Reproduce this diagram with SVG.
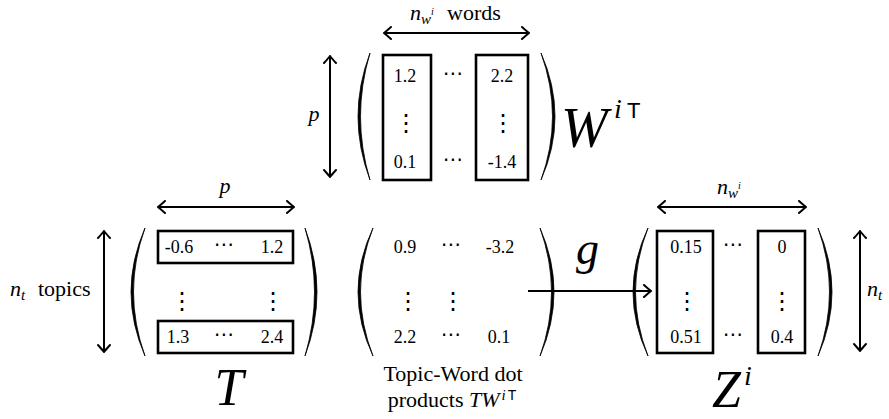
<svg xmlns="http://www.w3.org/2000/svg" width="889" height="419" viewBox="0 0 889 419">
<style>
text{font-family:"Liberation Serif","Times New Roman",serif;fill:#000}
.num{font-size:18px;text-anchor:middle}
.dots{font-family:"DejaVu Serif","DejaVu Sans",serif;font-size:20px;text-anchor:middle}
.vd{font-family:"DejaVu Serif","DejaVu Sans",serif;font-size:24px;text-anchor:middle}
.mi{font-style:italic}
.sf{font-family:"Liberation Sans","Arial",sans-serif;font-style:normal}
.lbl{font-size:22px}
.box{fill:none;stroke:#000;stroke-width:2.6}
.par{fill:#000;stroke:#000;stroke-width:0.8}
.arr{fill:none;stroke:#000;stroke-width:2;marker-start:url(#ah);marker-end:url(#ah)}
.arr1{fill:none;stroke:#000;stroke-width:2;marker-end:url(#ah)}
</style>
<defs>
<marker id="ah" markerUnits="userSpaceOnUse" viewBox="-9 -7 10 14" markerWidth="10" markerHeight="14" refX="0" refY="0" orient="auto-start-reverse">
<path d="M-7,-6 Q-2,-1.5 0,0 Q-2,1.5 -7,6" fill="none" stroke="#000" stroke-width="2" stroke-linecap="round"/>
</marker>
</defs>

<g id="W">
<path class="par" d="M370,53 Q346,116.5 370,180 Q351,116.5 370,53 Z"/>
<path class="par" d="M541,53 Q569,116.5 541,180 Q564,116.5 541,53 Z"/>
<rect class="box" x="383" y="55" width="48" height="125"/>
<rect class="box" x="476" y="55" width="52" height="125"/>
<text class="num" x="405" y="82">1.2</text>
<text class="dots" x="453" y="80">⋯</text>
<text class="num" x="502" y="82">2.2</text>
<text class="vd" x="406" y="131">⋮</text>
<text class="vd" x="503" y="131">⋮</text>
<text class="num" x="405" y="168">0.1</text>
<text class="dots" x="453" y="166">⋯</text>
<text class="num" x="502" y="168">-1.4</text>
<text class="mi" x="561" y="147" font-size="56">W</text>
<text class="mi" x="614" y="118" font-size="28">i</text>
<text class="sf" x="627" y="118" font-size="22">T</text>
<text class="mi lbl" x="410" y="20">n<tspan font-size="15" dy="4">w</tspan><tspan font-size="10" dy="-9">i</tspan></text>
<text class="lbl" x="447" y="20">words</text>
<text class="mi lbl" x="314" y="121" text-anchor="middle">p</text>
</g>

<g id="T">
<path class="par" d="M145,228 Q117,292 145,356 Q122,292 145,228 Z"/>
<path class="par" d="M305,228 Q329,292 305,356 Q324,292 305,228 Z"/>
<rect class="box" x="158" y="231" width="135" height="32"/>
<rect class="box" x="158" y="321" width="135" height="32"/>
<text class="num" x="179" y="253">-0.6</text>
<text class="dots" x="224" y="251">⋯</text>
<text class="num" x="272" y="253">1.2</text>
<text class="vd" x="182" y="309">⋮</text>
<text class="vd" x="273" y="309">⋮</text>
<text class="num" x="178" y="343">1.3</text>
<text class="dots" x="224" y="341">⋯</text>
<text class="num" x="272" y="343">2.4</text>
<text class="mi" x="229" y="405" font-size="52" text-anchor="middle">T</text>
<text class="mi lbl" x="225" y="193" text-anchor="middle">p</text>
<text class="mi lbl" x="10" y="296">n<tspan font-size="15" dy="4">t</tspan></text>
<text class="lbl" x="38" y="296">topics</text>
</g>

<g id="TW">
<path class="par" d="M373,228 Q343,292 373,356 Q348,292 373,228 Z"/>
<path class="par" d="M540,228 Q568,292 540,356 Q563,292 540,228 Z"/>
<text class="num" x="405" y="253">0.9</text>
<text class="dots" x="451" y="251">⋯</text>
<text class="num" x="500" y="253">-3.2</text>
<text class="vd" x="408" y="309">⋮</text>
<text class="vd" x="453" y="309">⋮</text>
<text class="num" x="405" y="343">2.2</text>
<text class="dots" x="451" y="341">⋯</text>
<text class="num" x="499" y="343">0.1</text>
<text class="lbl" x="453" y="381" text-anchor="middle">Topic-Word dot</text>
<text class="lbl" x="452" y="407" text-anchor="middle">products <tspan class="mi">TW</tspan><tspan class="mi" font-size="15" dx="2" dy="-7">i</tspan><tspan class="sf" font-size="14" dx="2">T</tspan></text>
</g>

<g id="Z">
<path class="par" d="M648,228 Q618,292 648,356 Q623,292 648,228 Z"/>
<path class="par" d="M818,228 Q846,292 818,356 Q841,292 818,228 Z"/>
<rect class="box" x="657" y="231" width="56" height="122"/>
<rect class="box" x="758" y="231" width="47" height="122"/>
<text class="num" x="686" y="253">0.15</text>
<text class="dots" x="733" y="251">⋯</text>
<text class="num" x="782" y="253">0</text>
<text class="vd" x="687" y="309">⋮</text>
<text class="vd" x="782" y="309">⋮</text>
<text class="num" x="686" y="343">0.51</text>
<text class="dots" x="733" y="341">⋯</text>
<text class="num" x="782" y="343">0.4</text>
<text class="mi" x="712" y="407" font-size="52">Z</text>
<text class="mi" x="744" y="385" font-size="28">i</text>
<text class="mi lbl" x="717" y="194">n<tspan font-size="15" dy="4">w</tspan><tspan font-size="10" dy="-9">i</tspan></text>
<text class="mi lbl" x="867" y="296">n<tspan font-size="15" dy="4">t</tspan></text>
</g>

<g id="g-label">
<text class="mi" x="576" y="264" font-size="46">g</text>
</g>

<g id="connectors">
<line class="arr" x1="384" y1="33" x2="529" y2="33"/>
<line class="arr" x1="330" y1="56" x2="330" y2="177"/>
<line class="arr" x1="158" y1="207" x2="294" y2="207"/>
<line class="arr" x1="104" y1="231" x2="104" y2="352"/>
<line class="arr" x1="658" y1="207" x2="806" y2="207"/>
<line class="arr" x1="860" y1="231" x2="860" y2="351"/>
<line class="arr1" x1="528" y1="291" x2="651" y2="291"/>
</g>
</svg>
